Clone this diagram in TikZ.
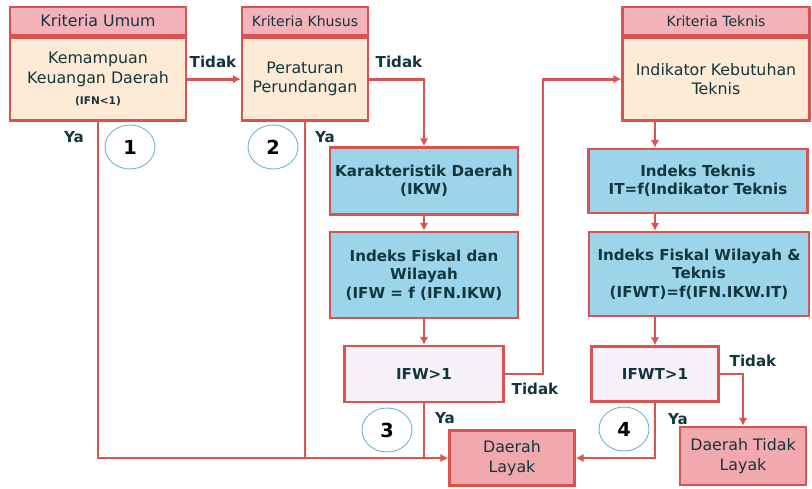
\documentclass[tikz,border=0pt]{standalone}
\usepackage{fontspec}
\setmainfont{DejaVu Sans}
\usepackage{xcolor,tikz}
\usetikzlibrary{positioning,calc,arrows.meta,shapes.geometric}
\definecolor{flowLine}{HTML}{DB5350}
\definecolor{headPink}{HTML}{F4B3BA}
\definecolor{bodyCream}{HTML}{FDEBD6}
\definecolor{boxBlue}{HTML}{9CD4EA}
\definecolor{cekLilac}{HTML}{F6F1F6}
\definecolor{layakPink}{HTML}{F2A9AD}
\definecolor{txtTeal}{HTML}{12363E}
\definecolor{numBlue}{HTML}{6FB3D2}

\tikzset{
  flowbox/.style={draw=flowLine, line width=1.5pt, align=center, inner sep=1pt,
    text=txtTeal, font=\fontsize{9}{11}\selectfont},
  headbox/.style={flowbox, fill=headPink, minimum height=0.56cm,
    font=\fontsize{8}{9.6}\selectfont},
  critbox/.style={flowbox, fill=bodyCream, minimum height=1.66cm},
  calcbox/.style={flowbox, fill=boxBlue, font=\fontsize{8.6}{10.4}\selectfont\bfseries},
  cekbox/.style={flowbox, fill=cekLilac, font=\fontsize{8.6}{10.4}\selectfont\bfseries},
  endbox/.style={flowbox, fill=layakPink},
  flowarr/.style={draw=flowLine, line width=1.6pt, -{Latex[length=4.5pt,width=5pt]}},
  flowjoin/.style={draw=flowLine, line width=1.6pt},
  ansLabel/.style={text=txtTeal, font=\fontsize{8.6}{10}\selectfont\bfseries},
  stepNum/.style={ellipse, draw=numBlue, line width=0.5pt, minimum width=1cm,
    minimum height=0.88cm, font=\fontsize{11}{13}\selectfont\bfseries}
}

\begin{document}
\begin{tikzpicture}[x=0.02cm, y=-0.02cm]

\useasboundingbox (0,0) rectangle (812,488);

% --- KRITERIA UMUM ---
\node[headbox, minimum width=3.52cm, font=\fontsize{9}{10.8}\selectfont] (hUmum) at (98,21) {Kriteria Umum};
\node[critbox, minimum width=3.52cm, below=0pt of hUmum] (bUmum)
  {Kemampuan\\Keuangan Daerah\\[1pt]{\fontsize{6}{7}\selectfont\bfseries (IFN<1)}};

% --- KRITERIA KHUSUS ---
\node[headbox, minimum width=2.52cm] (hKhusus) at (305,21) {Kriteria Khusus};
\node[critbox, minimum width=2.52cm, below=0pt of hKhusus] (bKhusus)
  {Peraturan\\Perundangan};

% --- KRITERIA TEKNIS ---
\node[headbox, minimum width=3.74cm] (hTeknis) at (716,21) {Kriteria Teknis};
\node[critbox, minimum width=3.74cm, below=0pt of hTeknis] (bTeknis)
  {Indikator Kebutuhan\\Teknis};

% --- MIDDLE COLUMN ---
\node[calcbox, minimum width=3.76cm, minimum height=1.34cm] (karakter) at (424,181)
  {Karakteristik Daerah\\(IKW)};
\node[calcbox, minimum width=3.76cm, minimum height=1.72cm] (ifw) at (424,275)
  {Indeks Fiskal dan\\Wilayah\\(IFW = f (IFN.IKW)};
\node[cekbox, minimum width=3.18cm, minimum height=1.12cm] (ifwCek) at (424,374)
  {IFW>1};

% --- RIGHT COLUMN ---
\node[calcbox, minimum width=4.38cm, minimum height=1.28cm] (teks) at (698,181)
  {Indeks Teknis\\IT=f(Indikator Teknis};
\node[calcbox, minimum width=4.4cm, minimum height=1.68cm] (ifwt) at (699,274)
  {Indeks Fiskal Wilayah \&\\Teknis\\(IFWT)=f(IFN.IKW.IT)};
\node[cekbox, minimum width=2.54cm, minimum height=1.1cm] (ifwtCek) at (655,374)
  {IFWT>1};

% --- RESULTS ---
\node[endbox, minimum width=2.5cm, minimum height=1.1cm] (layak) at (512,458)
  {Daerah\\Layak};
\node[endbox, minimum width=2.52cm, minimum height=1.16cm] (tidakLayak) at (743,456)
  {Daerah Tidak\\Layak};

% --- CONNECTORS ---
\coordinate (jTidak) at (543,374);
\draw[flowarr] (bUmum.east) -- (bKhusus.west);
\draw[flowarr] (bKhusus.east) -| (karakter.north);
\draw[flowarr] (karakter) -- (ifw);
\draw[flowarr] (ifw) -- (ifwCek);
\draw[flowarr] (ifwCek.east) -- (jTidak) |- (bTeknis.west);
\draw[flowarr] (ifwtCek.north |- bTeknis.south) -- (ifwtCek.north |- teks.north);
\draw[flowarr] (ifwtCek.north |- teks.south) -- (ifwtCek.north |- ifwt.north);
\draw[flowarr] (ifwtCek.north |- ifwt.south) -- (ifwtCek.north);
\draw[flowarr] (bUmum.south) |- (layak.west);
\draw[flowjoin] (bKhusus.south) -- (bKhusus.south |- layak.west);
\draw[flowjoin] (ifwCek.south) -- (ifwCek.south |- layak.west);
\draw[flowarr] (ifwtCek.south) |- (layak.east);
\draw[flowarr] (ifwtCek.east) -| (tidakLayak.north);

% --- YA / TIDAK ---
\node[ansLabel] (tUmum) at (213,62) {Tidak};
\node[ansLabel] (tKhusus) at (399,62) {Tidak};
\node[ansLabel] (tIfw) at (535,389) {Tidak};
\node[ansLabel] (tIfwt) at (753,361) {Tidak};
\node[ansLabel] (yUmum) at (74,137) {Ya};
\node[ansLabel] (yKhusus) at (325,137) {Ya};
\node[ansLabel] (yIfw) at (445,418) {Ya};
\node[ansLabel] (yIfwt) at (678,419) {Ya};

% --- STEP NUMBERS ---
\node[stepNum] (nSatu) at (130,147) {1};
\node[stepNum] (nDua) at (273,147) {2};
\node[stepNum] (nTiga) at (387,430) {3};
\node[stepNum] (nEmpat) at (624,429) {4};

\end{tikzpicture}
\end{document}
